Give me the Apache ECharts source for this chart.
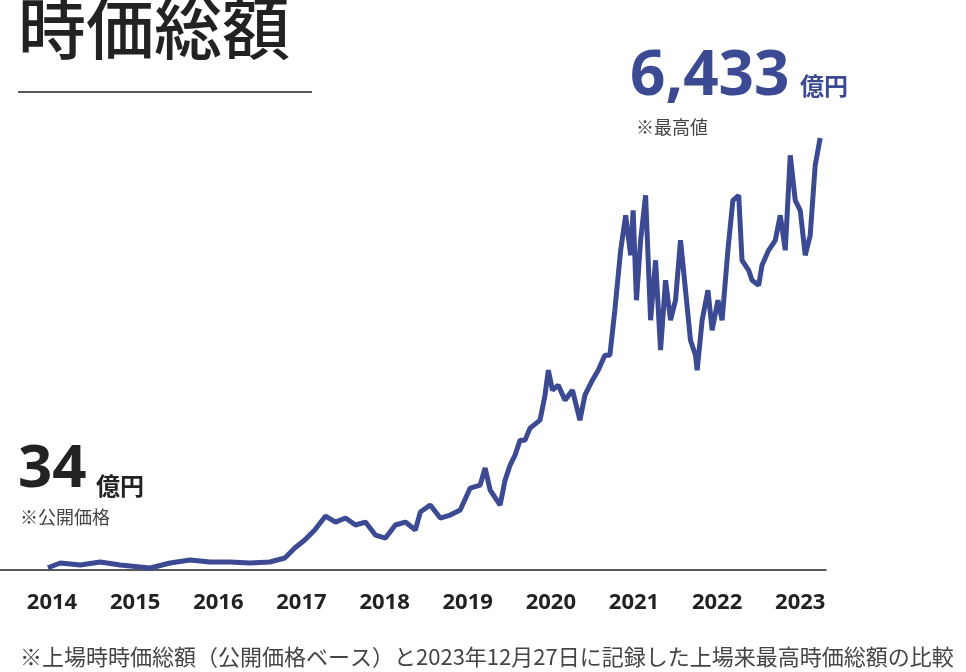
<!DOCTYPE html>
<html><head><meta charset="utf-8">
<script src="https://cdn.jsdelivr.net/npm/echarts@6/dist/echarts.min.js"></script>
<style>html,body{margin:0;padding:0;background:#fff}#c{width:966px;height:672px}</style>
</head><body><div id="c"></div>
<script>
const years = [2013.95,2014.10,2014.34,2014.58,2014.82,2015.06,2015.18,2015.42,2015.66,2015.90,2016.14,2016.38,2016.62,2016.80,2016.92,2017.04,2017.16,2017.29,2017.41,2017.53,2017.65,2017.77,2017.89,2018.01,2018.13,2018.25,2018.37,2018.43,2018.55,2018.67,2018.79,2018.91,2019.03,2019.15,2019.21,2019.27,2019.39,2019.45,2019.51,2019.57,2019.63,2019.69,2019.75,2019.87,2019.93,2019.97,2020.02,2020.09,2020.17,2020.26,2020.35,2020.41,2020.50,2020.57,2020.65,2020.71,2020.77,2020.84,2020.90,2020.96,2020.99,2021.03,2021.08,2021.14,2021.20,2021.26,2021.32,2021.38,2021.44,2021.50,2021.56,2021.62,2021.68,2021.74,2021.76,2021.82,2021.89,2021.94,2022.01,2022.06,2022.13,2022.19,2022.26,2022.30,2022.38,2022.42,2022.50,2022.54,2022.62,2022.70,2022.76,2022.82,2022.88,2022.94,2023.00,2023.06,2023.12,2023.18,2023.24];
const values = [34,104,74,119,74,45,30,104,149,119,119,104,119,179,327,446,595,803,714,774,670,714,521,476,670,714,595,863,967,774,818,893,1220,1265,1518,1190,967,1339,1562,1711,1934,1934,2113,2232,2604,2976,2678,2753,2530,2678,2232,2604,2827,2976,3199,3199,3869,4762,5282,4687,5357,4018,4910,5580,3720,4613,3274,4315,3720,4018,4910,4166,3422,3199,2976,3720,4166,3571,4018,3720,4762,5506,5580,4613,4464,4315,4241,4538,4762,4910,5282,4762,6175,5506,5357,4687,4985,6026,6433];
const tickYears = [2014,2015,2016,2017,2018,2019,2020,2021,2022,2023];
const data = years.map((y,i)=>[y,values[i]]);
const F = '"Noto Sans CJK JP","Noto Sans",sans-serif';
const chart = echarts.init(document.getElementById('c'));
chart.setOption({
  animation:false,
  grid:{left:0,right:140,top:100,bottom:102},
  xAxis:{type:'value',min:2013.374,max:2023.31,
    axisLine:{lineStyle:{color:'#222',width:1.5}},axisTick:{show:false},splitLine:{show:false},
    axisLabel:{customValues:tickYears,formatter:v=>String(Math.round(v)),color:'#222',fontSize:22,fontWeight:'bold',fontFamily:'"Noto Sans",sans-serif',margin:22}},
  yAxis:{type:'value',min:0,max:7000,show:false,splitLine:{show:false}},
  series:[{type:'line',data:data,showSymbol:false,lineStyle:{color:'#3b4a93',width:5},itemStyle:{color:'#3b4a93'}}],
  graphic:[
    {type:'text',left:18,top:-6,style:{text:'時価総額',font:'500 68px '+F,fill:'#222'}},
    {type:'line',shape:{x1:18,y1:92,x2:312,y2:92},style:{stroke:'#222',lineWidth:1.5}},
    {type:'text',left:630,top:46,style:{text:'6,433',font:'bold 62px "Noto Sans",sans-serif',fill:'#3b4a93'}},
    {type:'text',left:800,top:74,style:{text:'億円',font:'bold 24px '+F,fill:'#3b4a93'}},
    {type:'text',left:636,top:118,style:{text:'※最高値',font:'18px '+F,fill:'#444'}},
    {type:'text',left:18,top:440,style:{text:'34',font:'bold 60px "Noto Sans",sans-serif',fill:'#222'}},
    {type:'text',left:96,top:474,style:{text:'億円',font:'bold 24px '+F,fill:'#222'}},
    {type:'text',left:20,top:508,style:{text:'※公開価格',font:'18px '+F,fill:'#444'}},
    {type:'text',left:20,top:646,style:{text:'※上場時時価総額（公開価格ベース）と2023年12月27日に記録した上場来最高時価総額の比較',font:'22px '+F,fill:'#444'}}
  ]
});
</script></body></html>
